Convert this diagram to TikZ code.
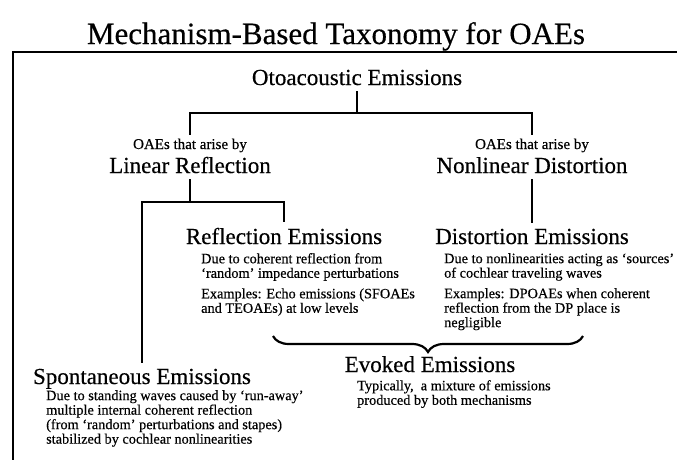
\documentclass[tikz,border=0pt]{standalone}
\usepackage{fontspec}
\setmainfont[FakeBold=0.4]{Liberation Serif}
\usetikzlibrary{decorations.pathreplacing}
\begin{document}
\begin{tikzpicture}[x=1pt,y=-1pt]

    \tikzset{
      head/.style={
        font=\fontsize{23}{25}\selectfont,
        inner sep=0pt,
        outer sep=6pt,
      },
      subhead/.style={
        font=\fontsize{15}{17}\selectfont,
        inner sep=0pt,
        outer sep=4pt,
      },
      desc/.style={
        font=\fontsize{14.3}{14.5}\selectfont,
        align=left,
        inner sep=0pt,
        anchor=north west,
      },
      link/.style={
        line width=1.3pt,
      },
    }
    \clip (0,0) rectangle (677,459);
    \draw[line width=1.6pt] (13,52) rectangle (700,480);

    \node[font=\fontsize{31}{34}\selectfont, anchor=base] (title) at (336,44) {Mechanism-Based Taxonomy for OAEs};

    \node[head, anchor=base] (oae) at (357,85) {Otoacoustic Emissions};
    \node[subhead, anchor=base] (linsub) at (190,149) {OAEs that arise by};
    \node[head, anchor=base] (lin) at (190,173) {Linear Reflection};
    \node[subhead, anchor=base] (nonlinsub) at (532,149) {OAEs that arise by};
    \node[head, anchor=base] (nonlin) at (532,173) {Nonlinear Distortion};

    \node[head, anchor=base] (refl) at (284,244) {Reflection Emissions};
    \node[head, anchor=base] (dist) at (532,244) {Distortion Emissions};
    \node[head, anchor=base] (spont) at (142,384) {Spontaneous Emissions};
    \node[head, anchor=base] (evoked) at (430,372) {Evoked Emissions};

    \node[desc] (refldesc) at (201,253) {Due to coherent reflection from\\‘random’ impedance perturbations\\[6pt]Examples: Echo emissions (SFOAEs\\and TEOAEs) at low levels};
    \node[desc] (distdesc) at (444,253) {Due to nonlinearities acting as ‘sources’\\of cochlear traveling waves\\[6pt]Examples: DPOAEs when coherent\\reflection from the DP place is\\negligible};
    \node[desc] (spontdesc) at (46,390) {Due to standing waves caused by ‘run-away’\\multiple internal coherent reflection\\(from ‘random’ perturbations and stapes)\\stabilized by cochlear nonlinearities};
    \node[desc] (evokeddesc) at (357,380) {Typically,\ \ a mixture of emissions\\produced by both mechanisms};

    % tree
    \coordinate (top split) at (357,113);
    \coordinate (lin split) at (190,202);
    \draw[link] (oae) -- (top split);
    \draw[link] (linsub) |- (top split) -| (nonlinsub);
    \draw[link] (lin) -- (lin split);
    \draw[link] (spont) |- (lin split) -| (refl);
    \draw[link] (nonlin) -- (dist);

    % brace over both kinds
    \coordinate (brace left) at (273,336);
    \coordinate (brace right) at (583,336);
    \draw[line width=2.2pt, decorate, decoration={brace, mirror, amplitude=16pt}] (brace left) -- (brace right);

\end{tikzpicture}
\end{document}
